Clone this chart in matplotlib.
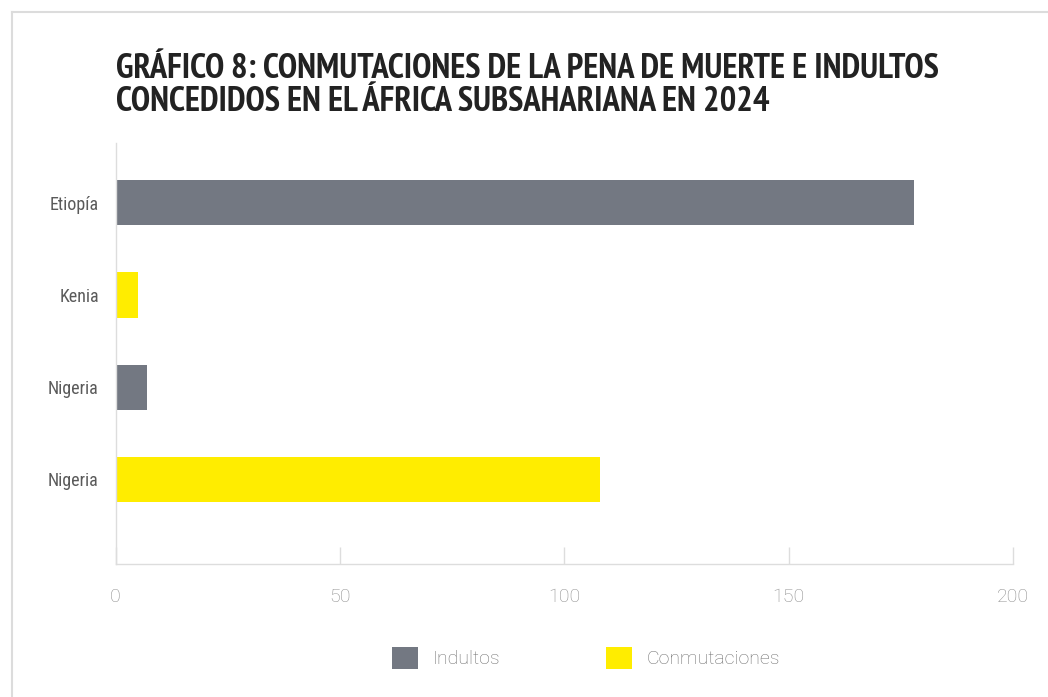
import matplotlib
matplotlib.use("Agg")
import matplotlib.pyplot as plt
from matplotlib.patches import Patch
from matplotlib.lines import Line2D
import numpy as np

# Datos del gráfico
paises = ["Etiopía", "Kenia", "Nigeria", "Nigeria"]
tipos = ["Indultos", "Conmutaciones", "Indultos", "Conmutaciones"]
valores = [178, 5, 7, 108]
x_ticks = [0, 50, 100, 150, 200]

titulo = ["GRÁFICO 8: CONMUTACIONES DE LA PENA DE MUERTE E INDULTOS",
          "CONCEDIDOS EN EL ÁFRICA SUBSAHARIANA EN 2024"]

colores = {"Indultos": "#737882", "Conmutaciones": "#FFED00"}

fuente_titulo = ["PT Sans Narrow", "Barlow Condensed", "DejaVu Sans"]
fuente_texto = ["Roboto Condensed", "Lato", "DejaVu Sans"]
fuente_fina = ["Roboto", "Lato", "DejaVu Sans"]

fig = plt.figure(figsize=(10.48, 6.97), dpi=100)
fig.patch.set_facecolor("white")

# borde de la tarjeta
fig.add_artist(Line2D([12 / 1048, 1.0], [1 - 12 / 697, 1 - 12 / 697],
                      transform=fig.transFigure, color="#dcdcdc", lw=1.5))
fig.add_artist(Line2D([12 / 1048, 12 / 1048], [0, 1 - 12 / 697],
                      transform=fig.transFigure, color="#dcdcdc", lw=1.5))

ax = fig.add_axes([115.5 / 1048, 1 - 564 / 697, (1013 - 115.5) / 1048, (564 - 143) / 697])

pos = np.arange(len(paises))
ax.barh(pos, valores, height=0.49, color=[colores[t] for t in tipos])

ax.set_xlim(0, 200)
ax.set_ylim(3.92, -0.65)
ax.set_yticks(pos)
ax.set_yticklabels(paises, fontsize=13, color="#5a5a5a", family=fuente_texto)
ax.tick_params(axis="y", length=0, pad=12)

ax.set_xticks(x_ticks)
ax.set_xticklabels([str(t) for t in x_ticks], fontsize=14, color="#8e8e8e",
                   family=fuente_fina, fontweight="light")
ax.tick_params(axis="x", direction="in", length=12, width=1, color="#dddddd", pad=17)

for s in ["top", "right"]:
    ax.spines[s].set_visible(False)
for s in ["left", "bottom"]:
    ax.spines[s].set_color("#dddddd")
    ax.spines[s].set_linewidth(1)

# titulo en dos lineas
for linea, base in zip(titulo, [78, 111]):
    fig.text(116 / 1048, 1 - base / 697, linea, ha="left", va="baseline",
             fontsize=25, fontweight="bold", color="#222222", family=fuente_titulo)

handles = [Patch(facecolor=colores["Indultos"], label="Indultos"),
           Patch(facecolor=colores["Conmutaciones"], label="Conmutaciones")]
fig.legend(handles=handles, loc="center", bbox_to_anchor=(586 / 1048, 1 - 658 / 697),
           ncol=2, frameon=False, handlelength=1.34, handleheight=1.39,
           handletextpad=0.77, columnspacing=5.4,
           prop={"family": fuente_fina, "size": 14, "weight": "light"},
           labelcolor="#707070")

fig.savefig("out.png", dpi=100)
